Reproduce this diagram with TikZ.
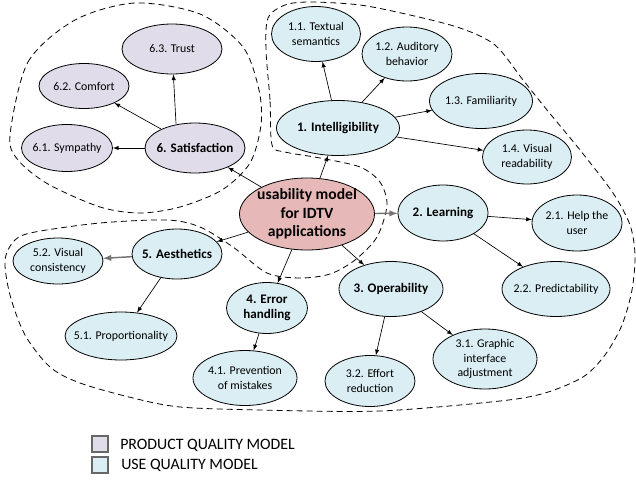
\documentclass[tikz,border=0pt]{standalone}
\usepackage{fontspec}
\setmainfont{Carlito}
\usepackage{tikz}
\usetikzlibrary{arrows}
\usetikzlibrary{arrows.meta}
\usetikzlibrary{shapes.geometric}
\tikzset{>=latex}
\definecolor{useblue}{HTML}{DAEEF3}
\definecolor{prodlila}{HTML}{E0DCEA}
\definecolor{rootred}{HTML}{E6B9B8}
\tikzstyle{qual} = [ellipse, draw, line width = .6pt, inner sep = -30pt, align = center, font = \fontsize{8.9}{10.9}\selectfont]
\tikzstyle{use} = [qual, fill = useblue]
\tikzstyle{prod} = [qual, fill = prodlila]
\tikzstyle{cat} = [font = \fontsize{9.8}{11.2}\selectfont\bfseries]
\tikzstyle{grp} = [dash pattern = on 4.5pt off 3pt, line width = .6pt]
\tikzstyle{lnk} = [-latex, line width = .5pt]
\tikzstyle{lnkg} = [-latex, line width = 1.1pt, draw = black!55]
\tikzstyle{legbox} = [draw = black!60, line width = .9pt, minimum size = 12pt, inner sep = 0]
\tikzstyle{legtxt} = [anchor = west, font = \fontsize{11.9}{13}\selectfont, inner sep = 0]
\tikzset{sz/.style 2 args = {minimum width = #1*0.75pt, minimum height = #2*0.75pt}}

\begin{document}
\begin{tikzpicture}[x = 0.75pt, y = -0.75pt]
\useasboundingbox (0, 0) rectangle (636, 482);
% groups
\draw [grp] plot [smooth cycle] coordinates {(10,135) (28,62) (75,20) (135,3) (200,14) (243,47) (259,90) (261,125) (250,163) (222,190) (180,207) (140,213) (100,207) (48,184) (18,160)};
\draw [grp] plot [smooth cycle] coordinates {(272,145) (270,100) (266,50) (268,18) (285,5) (310,2) (360,5) (410,15) (460,28) (495,45) (523,80) (547,110) (580,150) (613,193) (630,225) (635,255) (632,290) (622,325) (605,355) (583,377) (545,393) (500,401) (380,411) (260,410) (180,407) (133,398) (80,383) (50,367) (25,335) (10,295) (5,260) (15,240) (35,232) (100,223) (167,220) (200,227) (233,247) (267,273) (300,278) (330,274) (355,260) (377,237) (387,205) (380,182) (360,167) (320,158) (285,152)};
% root
\node [qual, fill = rootred, sz = {135}{72}, font = \fontsize{11.7}{14}\selectfont\bfseries] (root) at (307, 214) {usability model\\for IDTV\\applications};
% 6. satisfaction
\node [prod, cat, sz = {100}{50}] (sat) at (195, 148) {6. Satisfaction};
\node [prod, sz = {91}{47}] (sym) at (67, 148) {6.1. Sympathy};
\node [prod, sz = {90}{45}] (com) at (84, 86) {6.2. Comfort};
\node [prod, sz = {100}{50}] (tru) at (172, 49) {6.3. Trust};
% 1. intelligibility
\node [use, cat, sz = {123}{55}] (intel) at (338, 128) {1. Intelligibility};
\node [use, sz = {89}{55}] (txt) at (316, 34) {1.1. Textual\\semantics};
\node [use, sz = {90}{54}] (aud) at (407, 54) {1.2. Auditory\\behavior};
\node [use, sz = {103}{55}] (fam) at (481, 101) {1.3. Familiarity};
\node [use, sz = {89}{54}] (vis) at (527, 157) {1.4. Visual\\readability};
% 2. learning
\node [use, cat, sz = {90}{56}] (learn) at (443, 213) {2. Learning};
\node [use, sz = {90}{56}] (hlp) at (577, 223) {2.1. Help the\\user};
\node [use, sz = {108}{55}] (pred) at (556, 289) {2.2. Predictability};
% 3. operability
\node [use, cat, sz = {104}{55}] (oper) at (391, 289) {3. Operability};
\node [use, sz = {104}{60}] (gra) at (485, 359) {3.1. Graphic\\interface\\adjustment};
\node [use, sz = {90}{51}] (eff) at (370, 381) {3.2. Effort\\reduction};
% 4. error handling
\node [use, cat, sz = {81}{51}] (err) at (267, 308) {4. Error\\handling};
\node [use, sz = {104}{55}] (prev) at (245, 378) {4.1. Prevention\\of mistakes};
% 5. aesthetics
\node [use, cat, sz = {90}{50}] (aes) at (177, 254) {5. Aesthetics};
\node [use, sz = {90}{46}] (cons) at (58, 261) {5.2. Visual\\consistency};
\node [use, sz = {112}{48}] (prop) at (121, 336) {5.1. Proportionality};
% links
\draw [lnk] (root) to (sat);
\draw [lnk] (root) to (intel);
\draw [lnkg] (root) to (learn);
\draw [lnk] (root) to (oper);
\draw [lnk] (root) to (err);
\draw [lnk] (root) to (aes);
\draw [lnk] (sat) to (sym);
\draw [lnk] (sat) to (com);
\draw [lnk] (sat.north) ++(-19, 1) to (tru);
\draw [lnk] (intel) to (txt);
\draw [lnk] (intel) to (aud);
\draw [lnk] (intel) to (fam);
\draw [lnk] (intel) to (vis);
\draw [lnk] (learn) to (hlp);
\draw [lnk] (learn) to (pred);
\draw [lnk] (oper) to (gra);
\draw [lnk] (oper) to (eff);
\draw [lnk] (err) to (prev);
\draw [lnkg] (aes) to (cons);
\draw [lnk] (aes) to (prop);
% legend
\node [legbox, fill = prodlila] (legp) at (100, 444) {};
\node [legbox, fill = useblue] (legu) at (100, 465) {};
\node [legtxt] (legpt) at (120, 445) {PRODUCT QUALITY MODEL};
\node [legtxt] (legut) at (121, 465) {USE QUALITY MODEL};
\end{tikzpicture}
\end{document}
